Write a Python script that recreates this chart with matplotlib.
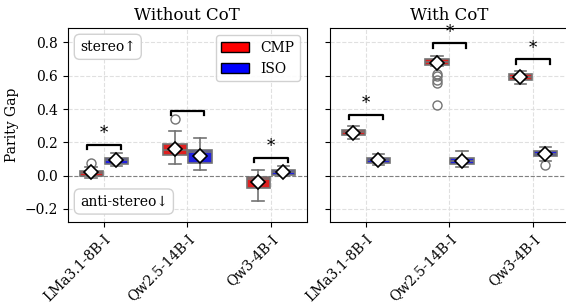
import numpy as np
import matplotlib.pyplot as plt
from matplotlib.patches import Patch

plt.rcParams['font.family'] = ['DejaVu Serif', 'DejaVu Sans']

models = ['LMa3.1-8B-I', 'Qw2.5-14B-I', 'Qw3-4B-I']
panels = ['Without CoT', 'With CoT']
groups = ['CMP', 'ISO']

# box statistics per panel -> group -> model
q1 = {'Without CoT': {'CMP': [0.0, 0.122, -0.074], 'ISO': [0.072, 0.076, 0.002]},
      'With CoT': {'CMP': [0.242, 0.667, 0.577], 'ISO': [0.078, 0.07, 0.116]}}
med = {'Without CoT': {'CMP': [0.015, 0.152, -0.022], 'ISO': [0.095, 0.142, 0.02]},
       'With CoT': {'CMP': [0.26, 0.685, 0.595], 'ISO': [0.095, 0.09, 0.13]}}
q3 = {'Without CoT': {'CMP': [0.03, 0.188, -0.008], 'ISO': [0.104, 0.156, 0.032]},
      'With CoT': {'CMP': [0.276, 0.70, 0.608], 'ISO': [0.106, 0.106, 0.146]}}
whislo = {'Without CoT': {'CMP': [-0.014, 0.068, -0.152], 'ISO': [0.056, 0.036, 0.0]},
          'With CoT': {'CMP': [0.22, 0.66, 0.553], 'ISO': [0.064, 0.05, 0.09]}}
whishi = {'Without CoT': {'CMP': [0.05, 0.266, 0.036], 'ISO': [0.138, 0.226, 0.058]},
          'With CoT': {'CMP': [0.298, 0.718, 0.628], 'ISO': [0.128, 0.146, 0.174]}}
means = {'Without CoT': {'CMP': [0.02, 0.158, -0.038], 'ISO': [0.092, 0.12, 0.02]},
         'With CoT': {'CMP': [0.258, 0.675, 0.592], 'ISO': [0.096, 0.088, 0.13]}}
fliers = {'Without CoT': {'CMP': [[0.076], [0.342], []], 'ISO': [[], [], []]},
          'With CoT': {'CMP': [[], [0.613, 0.597, 0.577, 0.556, 0.422], []],
                       'ISO': [[], [], [0.066]]}}

# significance brackets
sig_y = {'Without CoT': [0.186, 0.388, 0.108], 'With CoT': [0.366, 0.796, 0.70]}
sig_star = {'Without CoT': [True, False, True], 'With CoT': [True, True, True]}

box_colors = {'CMP': '#df2020', 'ISO': '#2020df'}
leg_colors = {'CMP': 'red', 'ISO': 'blue'}
offsets = {'CMP': -0.15, 'ISO': 0.15}

fig = plt.figure(figsize=(5.66, 3.03), dpi=100)
ax1 = fig.add_axes([0.120, 0.267, 0.422, 0.640])
ax2 = fig.add_axes([0.583, 0.267, 0.422, 0.640], sharey=ax1)

x = np.arange(len(models))
for ax, panel in zip([ax1, ax2], panels):
    ax.grid(True, ls='--', color='0.88', lw=0.8)
    ax.set_axisbelow(True)
    ax.axhline(0, color='0.5', ls='--', lw=0.8, zorder=1)
    for g in groups:
        stats = []
        for i in range(len(models)):
            stats.append(dict(q1=q1[panel][g][i], med=med[panel][g][i], q3=q3[panel][g][i],
                              whislo=whislo[panel][g][i], whishi=whishi[panel][g][i],
                              mean=means[panel][g][i], fliers=fliers[panel][g][i]))
        ax.bxp(stats, positions=x + offsets[g], widths=0.28, patch_artist=True,
               showmeans=True, manage_ticks=False,
               boxprops=dict(facecolor=box_colors[g], edgecolor='0.45', lw=1.2),
               medianprops=dict(color='0.45', lw=1.2),
               whiskerprops=dict(color='0.45', lw=1.2),
               capprops=dict(color='0.45', lw=1.2),
               flierprops=dict(marker='o', mfc='none', mec='0.45', ms=6.5),
               meanprops=dict(marker='D', mfc='white', mec='black', ms=7, mew=1.2))
    for i in range(len(models)):
        y = sig_y[panel][i]
        ax.plot([x[i] - 0.2, x[i] - 0.2, x[i] + 0.2, x[i] + 0.2],
                [y - 0.027, y, y, y - 0.027], color='black', lw=1.6)
        if sig_star[panel][i]:
            ax.text(x[i], y + 0.015, '*', ha='center', va='bottom', fontsize=12)
    ax.set_title(panel, fontsize=12)
    ax.set_xticks(x)
    ax.set_xticklabels(models, rotation=45, ha='right', rotation_mode='anchor', fontsize=10)
    ax.set_xlim(-0.43, 2.43)
    ax.tick_params(labelsize=10)

ax1.set_ylim(-0.28, 0.886)
ax1.set_yticks([-0.2, 0.0, 0.2, 0.4, 0.6, 0.8])
ax1.set_ylabel('Parity Gap', fontsize=10)
ax2.tick_params(labelleft=False)

box_style = dict(boxstyle='round,pad=0.4', fc='white', ec='0.82')
ax1.text(0.05, 0.94, 'stereo↑', transform=ax1.transAxes, va='top', ha='left',
         fontsize=10, bbox=box_style)
ax1.text(0.05, 0.07, 'anti-stereo↓', transform=ax1.transAxes, va='bottom', ha='left',
         fontsize=10, bbox=box_style)

handles = [Patch(facecolor=leg_colors[g], edgecolor='black', label=g) for g in groups]
ax1.legend(handles=handles, loc='upper right', fontsize=10, framealpha=0.9)

fig.savefig('out.png', dpi=100)
